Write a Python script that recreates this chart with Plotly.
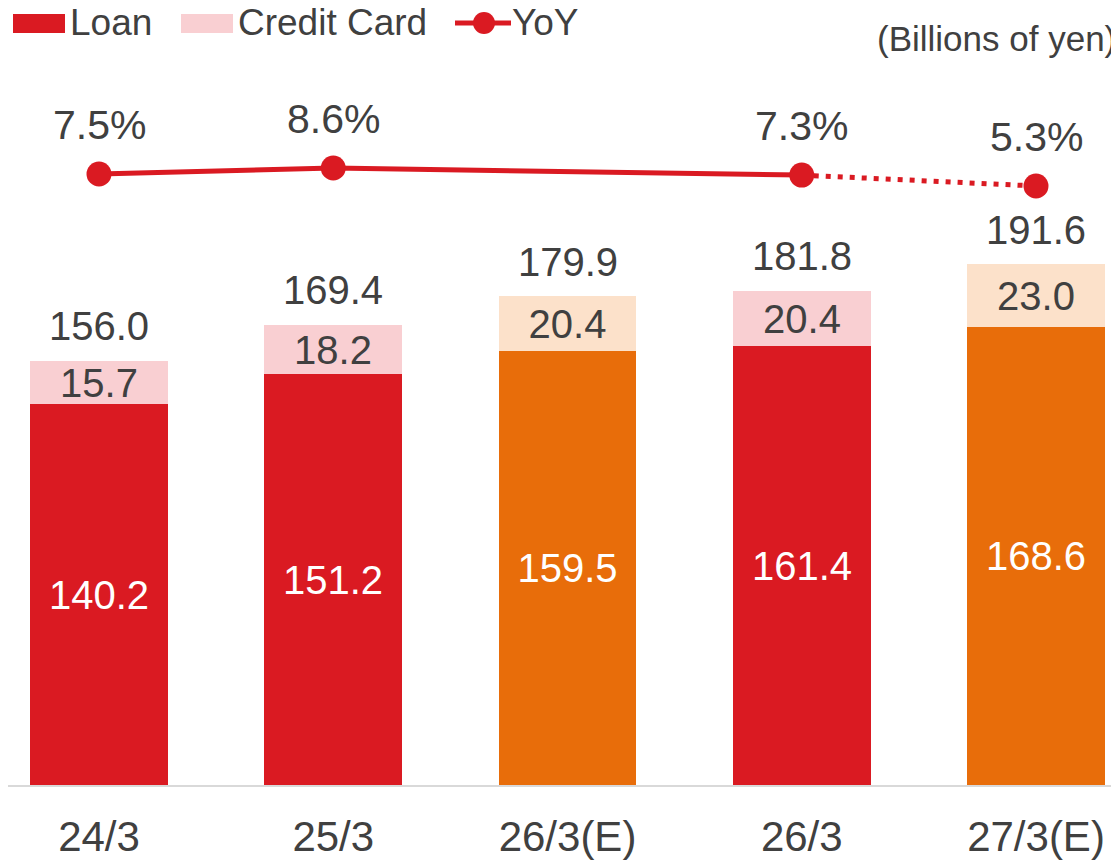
import plotly.graph_objects as go

# ---- data ----
categories = ["24/3", "25/3", "26/3(E)", "26/3", "27/3(E)"]
loan = [140.2, 151.2, 159.5, 161.4, 168.6]
credit_card = [15.7, 18.2, 20.4, 20.4, 23.0]
totals = [156.0, 169.4, 179.9, 181.8, 191.6]
yoy = [7.5, 8.6, None, 7.3, 5.3]
is_estimate = [False, False, True, False, True]

# ---- styles ----
RED = "#DA1A22"
ORANGE = "#E86D0A"
PINK = "#F9CFD2"
PEACH = "#FCE1CA"
TXT = "#404040"
FONT = "Liberation Sans, Arial, sans-serif"

OFF = 8                 # page body margin
W, H = 1119 - OFF, 860 - OFF
BASE = 785 - OFF        # baseline in figure px
MB = H - BASE
PH = BASE               # plot height
PX_PER_UNIT = 2.718
PX_PER_PCT = 785 / 144.0
CAT_SPACING = 234.25
CENTER0 = 99 - OFF


def px(xp):
    return (xp - OFF) / W


def py(yp):
    return (PH - (yp - OFF)) / PH


loan_colors = [ORANGE if e else RED for e in is_estimate]
cc_colors = [PEACH if e else PINK for e in is_estimate]

fig = go.Figure()
fig.add_trace(go.Bar(
    x=categories, y=loan, name="Loan",
    marker=dict(color=loan_colors, line=dict(width=0)),
    text=[f"{v:.1f}" for v in loan], textposition="inside",
    insidetextanchor="middle", textangle=0, constraintext="none",
    textfont=dict(family=FONT, size=40, color="white"),
    width=0.589, showlegend=False,
))
fig.add_trace(go.Bar(
    x=categories, y=credit_card, name="Credit Card",
    marker=dict(color=cc_colors, line=dict(width=0)),
    text=[f"{v:.1f}" for v in credit_card], textposition="inside",
    insidetextanchor="middle", textangle=0, constraintext="none",
    textfont=dict(family=FONT, size=40, color=TXT),
    width=0.589, showlegend=False,
))

# YoY line: solid between actuals, dotted into the forecast
solid_idx = [i for i, v in enumerate(yoy) if v is not None and i != 4]
fig.add_trace(go.Scatter(
    x=[categories[i] for i in solid_idx], y=[yoy[i] for i in solid_idx],
    mode="lines", line=dict(color=RED, width=5), yaxis="y2", showlegend=False,
))
fig.add_trace(go.Scatter(
    x=categories[3:5], y=yoy[3:5],
    mode="lines", line=dict(color=RED, width=5, dash="5px,7px"), yaxis="y2", showlegend=False,
))
pts = [i for i, v in enumerate(yoy) if v is not None]
fig.add_trace(go.Scatter(
    x=[categories[i] for i in pts], y=[yoy[i] for i in pts],
    mode="markers", marker=dict(color=RED, size=25), yaxis="y2", showlegend=False,
))

annotations = []
for c, t in zip(categories, totals):
    annotations.append(dict(x=c, y=t, xref="x", yref="y", text=f"{t:.1f}",
                            showarrow=False, yanchor="middle", yshift=34.5,
                            font=dict(family=FONT, size=40, color=TXT)))
for i in pts:
    annotations.append(dict(x=categories[i], y=yoy[i], xref="x", yref="y2", text=f"{yoy[i]:.1f}%",
                            showarrow=False, yanchor="middle", yshift=49,
                            font=dict(family=FONT, size=41, color=TXT)))

# custom legend (reference page pixels)
shapes = [
    dict(type="rect", xref="paper", yref="paper", x0=px(13), x1=px(65), y0=py(33), y1=py(14),
         fillcolor=RED, line=dict(width=0)),
    dict(type="rect", xref="paper", yref="paper", x0=px(181), x1=px(233), y0=py(33), y1=py(14),
         fillcolor=PINK, line=dict(width=0)),
    dict(type="line", xref="paper", yref="paper", x0=px(455), x1=px(511), y0=py(23), y1=py(23),
         line=dict(color=RED, width=5)),
    dict(type="circle", xref="paper", yref="paper", x0=px(473), x1=px(495), y0=py(34), y1=py(12),
         fillcolor=RED, line=dict(width=0)),
]
for label, xl in [("Loan", 68), ("Credit Card", 236), ("YoY", 510)]:
    annotations.append(dict(x=px(xl), y=py(22), xref="paper", yref="paper", text=label,
                            showarrow=False, xanchor="left", yanchor="middle",
                            font=dict(family=FONT, size=37, color=TXT)))
annotations.append(dict(x=px(1118), y=py(38), xref="paper", yref="paper", text="(Billions of yen)",
                        showarrow=False, xanchor="right", yanchor="middle",
                        font=dict(family=FONT, size=35, color=TXT)))

# secondary axis range so that 7.5% sits at reference page y=174
y2_low = 7.5 - (785 - 174) / PX_PER_PCT
y2_high = y2_low + PH / PX_PER_PCT

fig.update_layout(
    width=W, height=H,
    margin=dict(l=0, r=0, t=0, b=MB, autoexpand=False),
    barmode="stack", bargap=0,
    plot_bgcolor="white", paper_bgcolor="white",
    showlegend=False,
    xaxis=dict(type="category", categoryorder="array", categoryarray=categories,
               range=[-CENTER0 / CAT_SPACING, (W - CENTER0) / CAT_SPACING],
               showline=True, linecolor="#D9D9D9", linewidth=2,
               ticks="outside", ticklen=14, tickcolor="rgba(0,0,0,0)",
               tickfont=dict(family=FONT, size=42, color=TXT),
               showgrid=False, zeroline=False, automargin=False, fixedrange=True),
    yaxis=dict(range=[0, PH / PX_PER_UNIT], visible=False, showgrid=False, zeroline=False,
               fixedrange=True),
    yaxis2=dict(range=[y2_low, y2_high], overlaying="y", visible=False, showgrid=False,
                zeroline=False, fixedrange=True),
    annotations=annotations,
    shapes=shapes,
)

fig.write_html("out.html")
